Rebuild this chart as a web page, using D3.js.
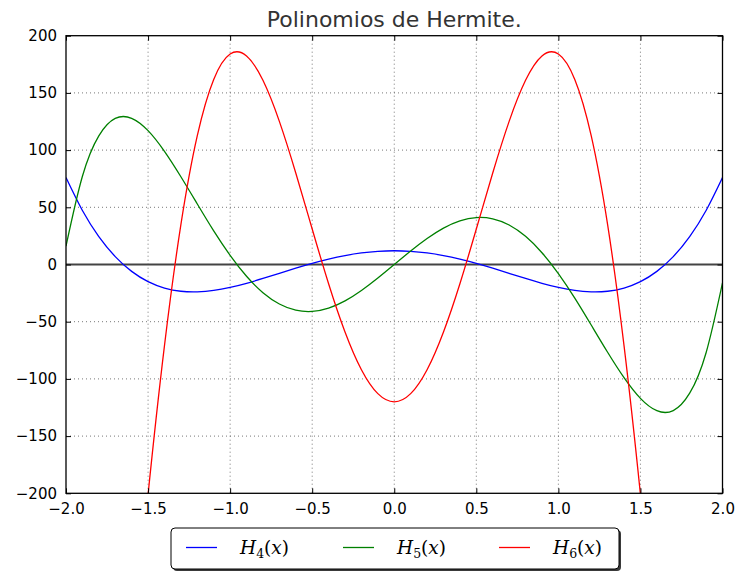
<!DOCTYPE html>
<html>
<head>
<meta charset="utf-8">
<script src="https://cdn.jsdelivr.net/npm/d3@7"></script>
<style>
  body { margin: 0; background: #fff; }
  svg { display: block; }
</style>
</head>
<body>
<div id="chart"></div>
<script>
// values, x from -2.0 to 2.0 in steps of 0.1
const xs = [-2.0, -1.9, -1.8, -1.7, -1.6, -1.5, -1.4, -1.3, -1.2, -1.1, -1.0,
  -0.9, -0.8, -0.7, -0.6, -0.5, -0.4, -0.3, -0.2, -0.1, 0.0,
  0.1, 0.2, 0.3, 0.4, 0.5, 0.6, 0.7, 0.8, 0.9, 1.0,
  1.1, 1.2, 1.3, 1.4, 1.5, 1.6, 1.7, 1.8, 1.9, 2.0];

const h4 = [76, 47.2, 24.4, 6.9, -6.0, -15, -20.6, -23.4, -23.9, -22.7, -20,
  -16.4, -12.2, -7.7, -3.2, 1, 4.7, 7.8, 10.1, 11.5, 12,
  11.5, 10.1, 7.8, 4.7, 1, -3.2, -7.7, -12.2, -16.4, -20,
  -22.7, -23.9, -23.4, -20.6, -15, -6.0, 6.9, 24.4, 47.2, 76];

const h5 = [16, 77.1, 112.5, 127.7, 127.8, 117, 98.9, 76.7, 52.9, 29.4, 8,
  -10.3, -24.6, -34.5, -39.9, -41, -38.1, -31.8, -22.7, -11.8, 0,
  11.8, 22.7, 31.8, 38.1, 41, 39.9, 34.5, 24.6, 10.3, -8,
  -29.4, -52.9, -76.7, -98.9, -117, -127.8, -127.7, -112.5, -77.1, -16];

// outside the frame below -200, clipped away
const h6 = [-824, -765, -649, -503, -349, -201, -70.9, 34.8, 112.6, 161.8, 184,
  182.3, 161, 125.1, 80, 31, -16.8, -59, -92, -112.9, -120,
  -112.9, -92, -59, -16.8, 31, 80, 125.1, 161, 182.3, 184,
  161.8, 112.6, 34.8, -70.9, -201, -349, -503, -649, -765, -824];

const seriesNames = ["H4", "H5", "H6"];
const seriesSubs = ["4", "5", "6"];
const seriesColors = ["#0000ff", "#008000", "#ff0000"];
const xTicks = [-2.0, -1.5, -1.0, -0.5, 0.0, 0.5, 1.0, 1.5, 2.0];
const yTicks = [-200, -150, -100, -50, 0, 50, 100, 150, 200];
const title = "Polinomios de Hermite.";

const width = 739, height = 571;
const margin = {left: 66, right: 16.5, top: 35.7, bottom: 77.7};
const innerW = width - margin.left - margin.right;
const innerH = height - margin.top - margin.bottom;

const svg = d3.select("#chart").append("svg")
  .attr("width", width)
  .attr("height", height);

const x = d3.scaleLinear().domain([-2, 2]).range([margin.left, margin.left + innerW]);
const y = d3.scaleLinear().domain([-200, 200]).range([margin.top + innerH, margin.top]);

const minus = (s) => s.replace("-", "\u2212");

svg.append("defs").append("clipPath").attr("id", "plotclip")
  .append("rect")
  .attr("x", margin.left).attr("y", margin.top)
  .attr("width", innerW).attr("height", innerH);

// grid
const grid = svg.append("g").attr("class", "grid");
grid.selectAll("line.gx")
  .data(xTicks.slice(1, -1))
  .enter().append("line")
  .attr("class", "gx")
  .attr("x1", d => x(d)).attr("x2", d => x(d))
  .attr("y1", margin.top).attr("y2", margin.top + innerH)
  .attr("stroke", "#555").attr("stroke-width", 0.8)
  .attr("stroke-dasharray", "1,3");
grid.selectAll("line.gy")
  .data(yTicks.slice(1, -1))
  .enter().append("line")
  .attr("class", "gy")
  .attr("x1", margin.left).attr("x2", margin.left + innerW)
  .attr("y1", d => y(d)).attr("y2", d => y(d))
  .attr("stroke", "#555").attr("stroke-width", 0.8)
  .attr("stroke-dasharray", "1,3");

// zero line
svg.append("line")
  .attr("x1", margin.left).attr("x2", margin.left + innerW)
  .attr("y1", y(0)).attr("y2", y(0))
  .attr("stroke", "#444").attr("stroke-width", 2);

const allSeries = [h4, h5, h6];
const line = d3.line()
  .x((d, i) => x(xs[i]))
  .y(d => y(d))
  .curve(d3.curveNatural);

svg.append("g").attr("clip-path", "url(#plotclip)")
  .selectAll("path")
  .data(allSeries)
  .enter().append("path")
  .attr("d", d => line(d))
  .attr("fill", "none")
  .attr("stroke", (d, i) => seriesColors[i])
  .attr("stroke-width", 1.3);

// frame
svg.append("rect")
  .attr("x", margin.left).attr("y", margin.top)
  .attr("width", innerW).attr("height", innerH)
  .attr("fill", "none").attr("stroke", "#000").attr("stroke-width", 1.3);

// axes, ticks point inward on all four sides
const axisB = svg.append("g")
  .attr("transform", "translate(0," + (margin.top + innerH) + ")")
  .call(d3.axisBottom(x).tickValues(xTicks).tickSizeInner(-5).tickSizeOuter(0)
    .tickPadding(10).tickFormat(d => minus(d3.format(".1f")(d))));
const axisT = svg.append("g")
  .attr("transform", "translate(0," + margin.top + ")")
  .call(d3.axisTop(x).tickValues(xTicks).tickSizeInner(-5).tickSizeOuter(0).tickFormat(""));
const axisL = svg.append("g")
  .attr("transform", "translate(" + margin.left + ",0)")
  .call(d3.axisLeft(y).tickValues(yTicks).tickSizeInner(-5).tickSizeOuter(0)
    .tickPadding(9).tickFormat(d => minus(String(d))));
const axisR = svg.append("g")
  .attr("transform", "translate(" + (margin.left + innerW) + ",0)")
  .call(d3.axisRight(y).tickValues(yTicks).tickSizeInner(-5).tickSizeOuter(0).tickFormat(""));

[axisB, axisT, axisL, axisR].forEach(a => {
  a.select(".domain").remove();
  a.selectAll(".tick line").attr("stroke", "#000");
  a.selectAll("text")
    .attr("font-family", "DejaVu Sans, sans-serif")
    .attr("font-size", 15)
    .attr("fill", "#000");
});

// title
svg.append("text")
  .attr("x", x(0)).attr("y", 27)
  .attr("text-anchor", "middle")
  .attr("font-family", "DejaVu Sans, sans-serif")
  .attr("font-size", 22)
  .attr("fill", "#333")
  .text(title);

// legend
const legend = svg.append("g").attr("class", "legend");
const lx = 171, ly = 528, lw = 448, lh = 41;
legend.append("rect")
  .attr("x", lx + 2).attr("y", ly + 2).attr("width", lw).attr("height", lh)
  .attr("rx", 4).attr("fill", "#3a3a3a");
legend.append("rect")
  .attr("x", lx).attr("y", ly).attr("width", lw).attr("height", lh)
  .attr("rx", 4).attr("fill", "#fff").attr("stroke", "#000").attr("stroke-width", 1);

const entryX = [186, 343, 499];
const entry = legend.selectAll("g.entry")
  .data(seriesNames)
  .enter().append("g")
  .attr("class", "entry")
  .attr("transform", (d, i) => "translate(" + entryX[i] + "," + (ly + 19.5) + ")");
entry.append("line")
  .attr("x1", 0).attr("x2", 31)
  .attr("stroke", (d, i) => seriesColors[i])
  .attr("stroke-width", 1.3);
const lt = entry.append("text")
  .attr("x", 54).attr("y", 6)
  .attr("font-family", "DejaVu Serif, serif")
  .attr("font-size", 18.5)
  .attr("fill", "#000");
lt.append("tspan").attr("font-style", "italic").text("H");
lt.append("tspan").attr("font-size", 12.5).attr("dy", 4).text((d, i) => seriesSubs[i]);
lt.append("tspan").attr("dy", -4).text("(");
lt.append("tspan").attr("font-style", "italic").text("x");
lt.append("tspan").text(")");
</script>
</body>
</html>
